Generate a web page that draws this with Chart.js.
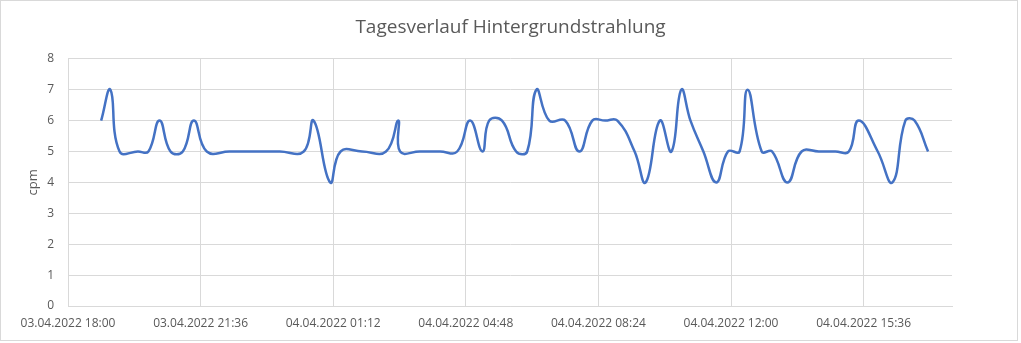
<!DOCTYPE html>
<html><head><meta charset="utf-8">
<script src="https://cdn.jsdelivr.net/npm/chart.js@4/dist/chart.umd.min.js"></script>
<style>html,body{margin:0;padding:0;background:#fff}</style>
</head><body>
<canvas id="c" width="1021" height="343" style="display:block;width:1021px;height:343px"></canvas>
<script>
const chartTitle = "Tagesverlauf Hintergrundstrahlung";
const yAxisTitle = "cpm";
const axisStart = "03.04.2022 18:00";
const axisEnd = "04.04.2022 18:00";
const tickStepMinutes = 216;
const yTicks = [0, 1, 2, 3, 4, 5, 6, 7, 8];

const times = [
  "03.04.2022 18:54","03.04.2022 19:09","03.04.2022 19:24","03.04.2022 19:54","03.04.2022 20:11",
  "03.04.2022 20:29","03.04.2022 20:47","03.04.2022 21:07","03.04.2022 21:25","03.04.2022 21:46",
  "03.04.2022 22:23","03.04.2022 23:04","03.04.2022 23:45","04.04.2022 00:24","04.04.2022 00:40",
  "04.04.2022 01:07","04.04.2022 01:24","04.04.2022 01:59","04.04.2022 02:38","04.04.2022 02:58",
  "04.04.2022 03:01","04.04.2022 03:33","04.04.2022 04:06","04.04.2022 04:34","04.04.2022 04:55",
  "04.04.2022 05:15","04.04.2022 05:26","04.04.2022 05:47","04.04.2022 06:10","04.04.2022 06:28",
  "04.04.2022 06:43","04.04.2022 07:04","04.04.2022 07:30","04.04.2022 07:53","04.04.2022 08:14",
  "04.04.2022 08:35","04.04.2022 08:55","04.04.2022 09:23","04.04.2022 09:41","04.04.2022 10:04",
  "04.04.2022 10:23","04.04.2022 10:39","04.04.2022 10:54","04.04.2022 11:15","04.04.2022 11:36",
  "04.04.2022 11:55","04.04.2022 12:14","04.04.2022 12:27","04.04.2022 12:50","04.04.2022 13:07",
  "04.04.2022 13:32","04.04.2022 13:55","04.04.2022 14:23","04.04.2022 14:50","04.04.2022 15:12",
  "04.04.2022 15:28","04.04.2022 15:59","04.04.2022 16:23","04.04.2022 16:44","04.04.2022 16:59",
  "04.04.2022 17:21"
];
const values = [
  6,7,5,5,5, 6,5,5,6,5,
  5,5,5,5,6, 4,5,5,5,6,
  5,5,5,5,6, 5,6,6,5,5,
  7,6,6,5,6, 6,6,5,4,6,
  5,7,6,5,4, 5,5,7,5,5,
  4,5,5,5,5, 6,5,4,6,6,
  5
];

function parseDT(s){
  const [d, t] = s.split(" ");
  const [dd, mm, yy] = d.split(".").map(Number);
  const [hh, mi] = t.split(":").map(Number);
  return Date.UTC(yy, mm - 1, dd, hh, mi);
}
const t0 = parseDT(axisStart);
const spanMin = (parseDT(axisEnd) - t0) / 60000;
function fmt(min){
  const d = new Date(t0 + min * 60000);
  const p = n => String(n).padStart(2, "0");
  return p(d.getUTCDate()) + "." + p(d.getUTCMonth() + 1) + "." + d.getUTCFullYear() + " " + p(d.getUTCHours()) + ":" + p(d.getUTCMinutes());
}
const points = times.map((s, i) => ({x: (parseDT(s) - t0) / 60000, y: values[i]}));

const textColor = "#595959";
const gridColor = "#d9d9d9";
const fontFam = "'Open Sans', 'Liberation Sans', sans-serif";

const frame = {
  id: "frame",
  beforeDraw(chart){
    const ctx = chart.ctx;
    ctx.save();
    ctx.fillStyle = "#fff";
    ctx.fillRect(0, 0, chart.width, chart.height);
    ctx.strokeStyle = gridColor;
    ctx.lineWidth = 1;
    ctx.strokeRect(0.5, 0.5, 1017, 340);
    ctx.restore();
  }
};

new Chart(document.getElementById("c"), {
  type: "line",
  data: {
    datasets: [{
      data: points,
      yAxisID: "y",
      borderColor: "#4472C4",
      borderWidth: 2.5,
      pointRadius: 0,
      tension: 0.45,
      fill: false
    }]
  },
  options: {
    responsive: false,
    animation: false,
    devicePixelRatio: 1,
    layout: {padding: 0},
    plugins: {
      legend: {display: false},
      tooltip: {enabled: false},
      title: {
        display: true,
        text: chartTitle,
        color: textColor,
        font: {family: fontFam, size: 19, weight: "normal"},
        padding: {top: 16, bottom: 20}
      }
    },
    scales: {
      x: {
        type: "linear",
        min: 0,
        max: spanMin,
        grid: {color: gridColor, drawTicks: false},
        border: {color: gridColor},
        ticks: {
          stepSize: tickStepMinutes,
          includeBounds: false,
          autoSkip: false,
          maxRotation: 0,
          padding: 10,
          color: textColor,
          font: {family: fontFam, size: 12},
          callback: v => fmt(v)
        },
        afterFit(s){ s.height = 37; }
      },
      y: {
        position: "left",
        min: yTicks[0],
        max: yTicks[yTicks.length - 1],
        grid: {color: gridColor, drawTicks: false},
        border: {color: gridColor},
        ticks: {
          stepSize: 1,
          padding: 14,
          color: textColor,
          font: {family: fontFam, size: 12}
        },
        title: {
          display: true,
          text: yAxisTitle,
          color: textColor,
          font: {family: fontFam, size: 13},
          padding: {top: 25, bottom: 0}
        },
        afterFit(s){ s.width = 68; }
      },
      yRight: {
        position: "right",
        min: 0,
        max: 8,
        grid: {display: false, drawTicks: false},
        border: {display: false},
        ticks: {display: false},
        afterFit(s){ s.width = 69; }
      }
    }
  },
  plugins: [frame]
});
</script>
</body></html>
